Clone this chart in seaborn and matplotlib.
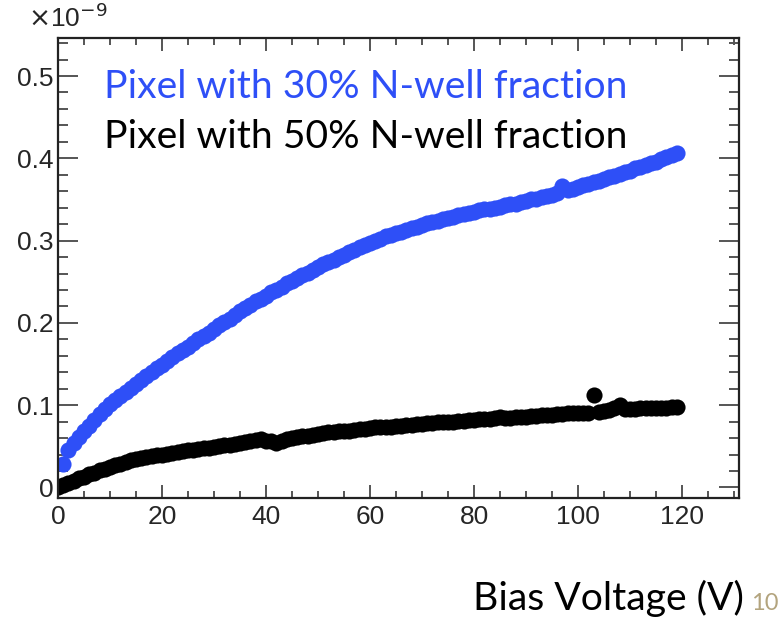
import numpy as np
import pandas as pd
import seaborn as sns
import matplotlib.pyplot as plt
from matplotlib.ticker import MultipleLocator, FuncFormatter

# leakage current (x1e-9) vs bias voltage
volt_30 = list(range(1, 120))
curr_30 = [0.029, 0.046, 0.054, 0.061, 0.068, 0.075, 0.082, 0.089, 0.095, 0.101,
           0.106, 0.111, 0.116, 0.121, 0.126, 0.131, 0.136, 0.140, 0.145, 0.149,
           0.154, 0.158, 0.163, 0.167, 0.171, 0.176, 0.180, 0.184, 0.188, 0.193,
           0.197, 0.201, 0.205, 0.209, 0.214, 0.218, 0.222, 0.226, 0.229, 0.233,
           0.237, 0.240, 0.244, 0.248, 0.251, 0.255, 0.258, 0.261, 0.264, 0.268,
           0.271, 0.274, 0.277, 0.280, 0.283, 0.286, 0.289, 0.292, 0.295, 0.297,
           0.300, 0.302, 0.305, 0.307, 0.309, 0.311, 0.313, 0.315, 0.317, 0.319,
           0.321, 0.323, 0.324, 0.326, 0.328, 0.329, 0.331, 0.332, 0.334, 0.335,
           0.337, 0.338, 0.339, 0.340, 0.341, 0.343, 0.344, 0.345, 0.347, 0.348,
           0.350, 0.351, 0.353, 0.354, 0.356, 0.358, 0.366, 0.361, 0.363, 0.365,
           0.367, 0.369, 0.371, 0.373, 0.375, 0.377, 0.379, 0.381, 0.383, 0.385,
           0.388, 0.390, 0.392, 0.394, 0.396, 0.399, 0.401, 0.404, 0.407]

volt_50 = list(range(0, 120))
curr_50 = [0.000, 0.003, 0.005, 0.008, 0.011, 0.013, 0.016, 0.018, 0.021, 0.023,
           0.025, 0.027, 0.029, 0.031, 0.033, 0.034, 0.036, 0.037, 0.038, 0.039,
           0.040, 0.041, 0.042, 0.043, 0.044, 0.045, 0.046, 0.047, 0.048, 0.048,
           0.049, 0.050, 0.051, 0.052, 0.053, 0.054, 0.055, 0.056, 0.058, 0.059,
           0.057, 0.056, 0.054, 0.057, 0.059, 0.060, 0.061, 0.062, 0.063, 0.064,
           0.065, 0.066, 0.067, 0.067, 0.068, 0.069, 0.069, 0.070, 0.071, 0.071,
           0.072, 0.073, 0.073, 0.074, 0.074, 0.075, 0.075, 0.076, 0.076, 0.077,
           0.077, 0.078, 0.078, 0.079, 0.079, 0.080, 0.080, 0.081, 0.081, 0.082,
           0.082, 0.083, 0.083, 0.083, 0.084, 0.086, 0.085, 0.085, 0.086, 0.086,
           0.086, 0.087, 0.087, 0.088, 0.088, 0.088, 0.089, 0.089, 0.090, 0.090,
           0.091, 0.091, 0.091, 0.112, 0.092, 0.093, 0.094, 0.096, 0.100, 0.095,
           0.095, 0.095, 0.096, 0.096, 0.096, 0.097, 0.097, 0.097, 0.098, 0.098]

blue = "#2e4ff7"

sns.set_style("white")
plt.rcParams['font.family'] = ['Liberation Sans', 'DejaVu Sans']

fig = plt.figure(figsize=(7.8, 6.22), dpi=100)
ax = fig.add_axes([0.0744, 0.1994, 0.8734, 0.74])

df50 = pd.DataFrame({'v': volt_50, 'i': curr_50})
df30 = pd.DataFrame({'v': volt_30, 'i': curr_30})
sns.scatterplot(data=df50, x='v', y='i', color='black', s=135, linewidth=0, ax=ax)
sns.scatterplot(data=df30, x='v', y='i', color=blue, s=135, linewidth=0, ax=ax)

ax.set_xlim(0, 131)
ax.set_ylim(-0.0128, 0.5466)
ax.set_xlabel('')
ax.set_ylabel('')

ax.xaxis.set_major_locator(MultipleLocator(20))
ax.xaxis.set_minor_locator(MultipleLocator(5))
ax.yaxis.set_major_locator(MultipleLocator(0.1))
ax.yaxis.set_minor_locator(MultipleLocator(0.02))
ax.yaxis.set_major_formatter(FuncFormatter(lambda v, p: '0' if abs(v) < 1e-9 else f'{v:.1f}'))

for s in ax.spines.values():
    s.set_linewidth(1.6)
    s.set_color('#222222')

ax.tick_params(axis='x', which='major', direction='in', length=9.5, width=1.4,
               color='#555555', top=True, bottom=True, labelsize=19, pad=5)
ax.tick_params(axis='x', which='minor', direction='in', length=5, width=1.4,
               color='#555555', top=True, bottom=True)
ax.tick_params(axis='y', which='major', direction='in', length=14.5, width=1.4,
               color='#555555', left=True, right=True, labelsize=19, pad=3)
ax.tick_params(axis='y', which='minor', direction='in', length=7.2, width=1.4,
               color='#555555', left=True, right=True)

fig.text(28 / 780, 1 - 27 / 622, r'$\times$10$^{-9}$', fontsize=19, va='baseline')

label_font = ['Lato', 'DejaVu Sans']
fig.text(104 / 780, 1 - 98 / 622, 'Pixel with 30% N-well fraction', color=blue,
         fontsize=28.2, family=label_font, va='baseline')
fig.text(104 / 780, 1 - 148 / 622, 'Pixel with 50% N-well fraction', color='black',
         fontsize=28.2, family=label_font, va='baseline')
fig.text(473 / 780, 1 - 610 / 622, 'Bias Voltage (V)', color='black',
         fontsize=28.2, family=label_font, va='baseline')
fig.text(751 / 780, 1 - 610 / 622, '10', color='#b3a47e',
         fontsize=17, family=label_font, va='baseline')

fig.savefig('out.png', dpi=100)
